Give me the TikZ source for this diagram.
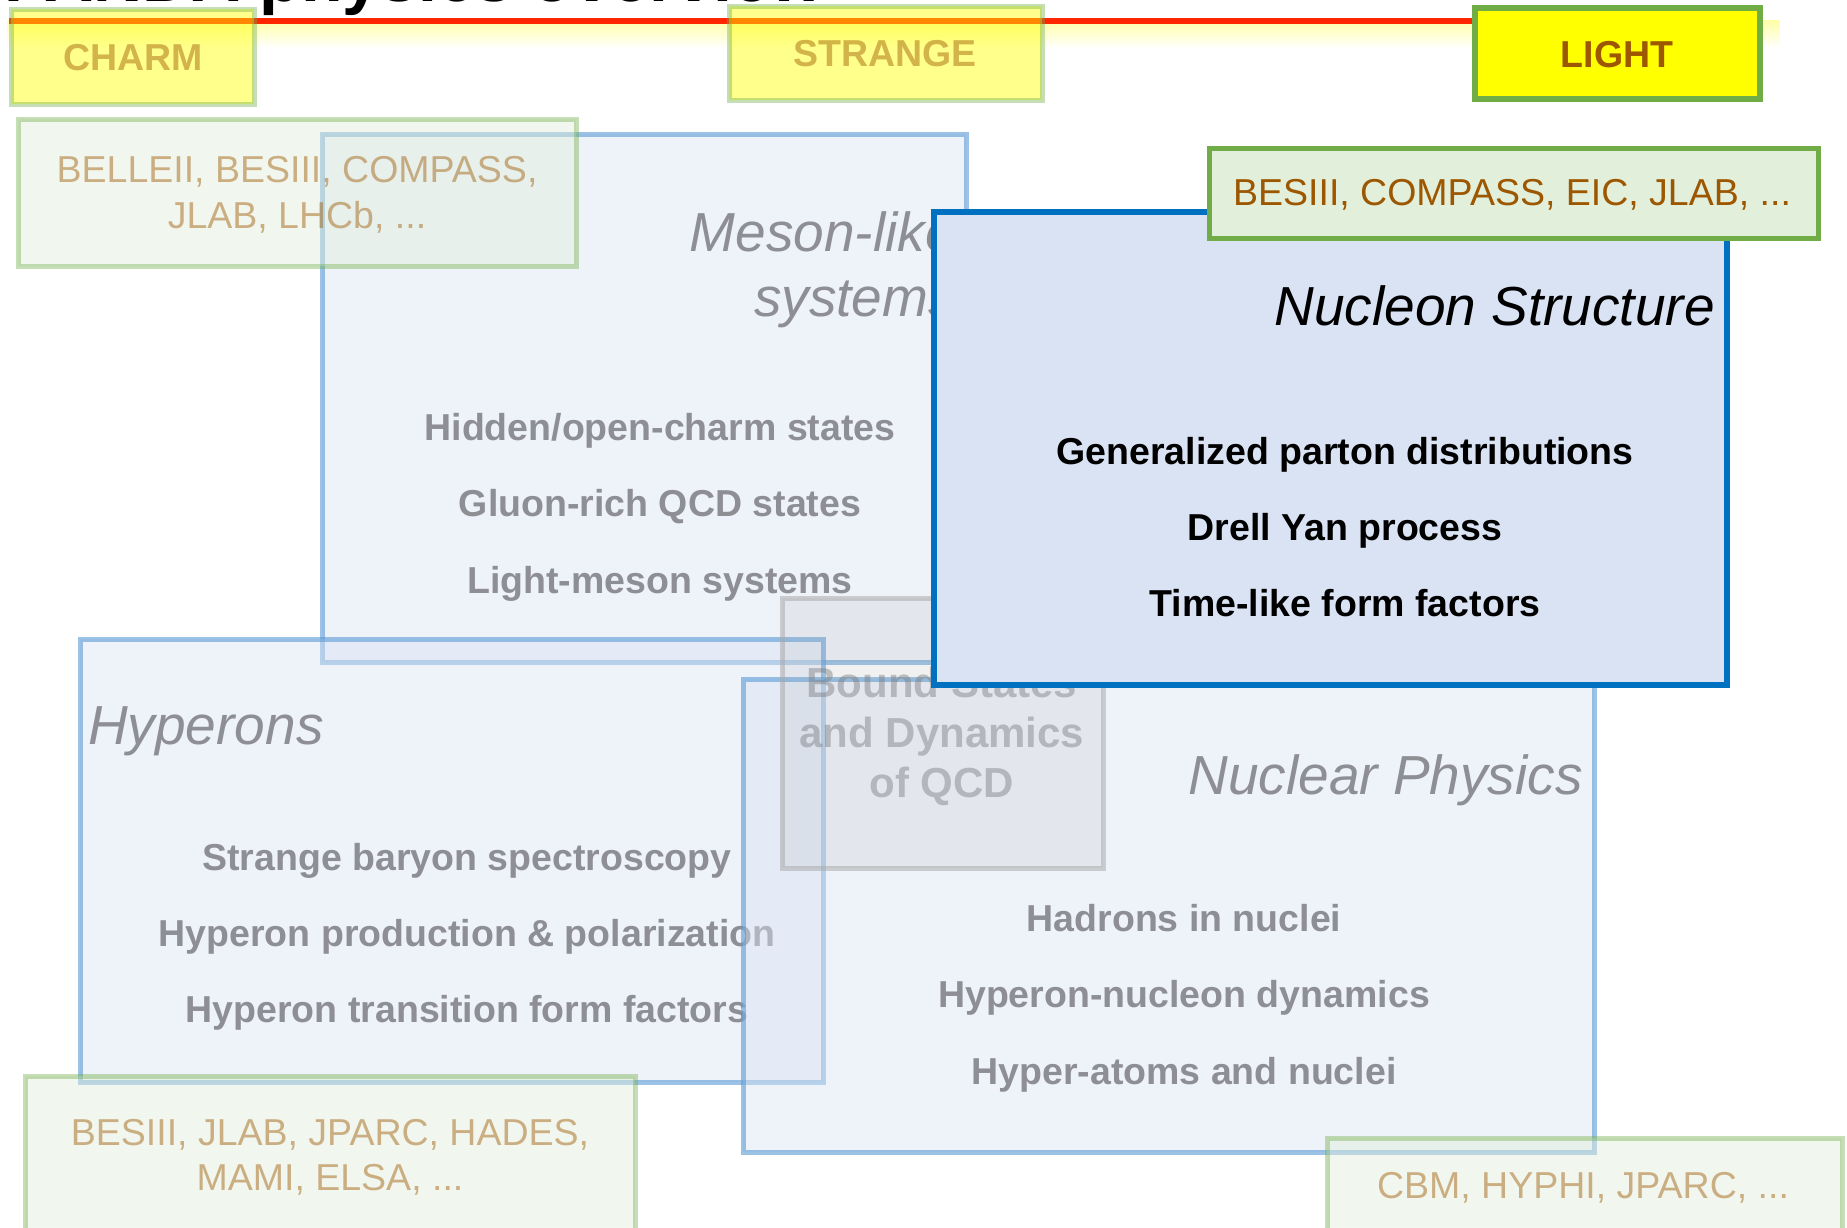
\documentclass[tikz,border=0pt]{standalone}
\usepackage{fontspec}
\setmainfont{Liberation Sans}
\usetikzlibrary{fadings}
\definecolor{bluedraw}{HTML}{5B9BD5}
\definecolor{bluefill}{HTML}{DAE3F3}
\definecolor{nucdraw}{HTML}{0070C0}
\definecolor{grndraw}{HTML}{70AD47}
\definecolor{grnfill}{HTML}{E2EFDA}
\definecolor{expbrown}{HTML}{9C5700}
\definecolor{txtgray}{HTML}{8E8F94}
\definecolor{redline}{HTML}{FF2600}
\definecolor{boundgray}{HTML}{A6A6A6}
\definecolor{boundtxt}{HTML}{7A7C82}
\definecolor{tagyellow}{HTML}{FFFF00}
\tikzfading[name=glowfade, top color=transparent!0, bottom color=transparent!100]
\tikzset{
  bluebox/.style={draw=bluedraw, draw opacity=0.6, fill=bluefill, fill opacity=0.45, line width=5pt},
  fadedexp/.style={draw=grndraw, draw opacity=0.4, fill=grnfill, fill opacity=0.45, line width=5pt},
  fadedtag/.style={draw=grndraw, draw opacity=0.4, fill=tagyellow, fill opacity=0.45, line width=5pt},
  itemtxt/.style={font=\fontsize{37.5pt}{45pt}\selectfont\bfseries, text=txtgray, inner sep=0pt, anchor=base},
  nucitem/.style={itemtxt, text=black},
  ttl/.style={font=\fontsize{55pt}{66pt}\selectfont\itshape, text=txtgray, inner sep=0pt},
  exptxt/.style={font=\fontsize{37.5pt}{45pt}\selectfont, text=expbrown, inner sep=0pt, anchor=base},
  fadedtxt/.style={exptxt, text opacity=0.45},
  tagtxt/.style={font=\fontsize{37.5pt}{45pt}\selectfont\bfseries, text=expbrown, inner sep=0pt, anchor=base},
  fadedtagtxt/.style={tagtxt, text opacity=0.45},
  boundtext/.style={font=\fontsize{42pt}{50pt}\selectfont\bfseries, text=boundtxt, text opacity=0.45, inner sep=0pt, anchor=base},
}
\begin{document}
\begin{tikzpicture}[x=1pt,y=-1pt]
\useasboundingbox (0,0) rectangle (1847,1227);
\clip (0,0) rectangle (1847,1227);
\fill[white] (0,0) rectangle (1847,1227);

% title (cut off at top)
\node[anchor=base west, inner sep=0pt, font=\fontsize{68pt}{80pt}\selectfont\bfseries] (title) at (4,1) {PANDA physics overview};

% glow and red bar
\fill[tagyellow, opacity=0.35, path fading=glowfade] (9,20) rectangle (1785,48);
\coordinate (barL) at (9,21);
\coordinate (barR) at (1472,21);
\draw[redline, line width=6pt] (barL) -- (barR);

% Meson-like systems
\path[bluebox] (322,134) rectangle (966,662);
\node[ttl, anchor=base east] (mesonA) at (956,251) {Meson-like};
\node[ttl, anchor=base east] (mesonB) at (956,316) {systems};
\node[itemtxt] (m1) at (660,440) {Hidden/open-charm states};
\node[itemtxt] (m2) at (660,516) {Gluon-rich QCD states};
\node[itemtxt] (m3) at (660,593) {Light-meson systems};

% Hyperons
\path[bluebox] (80,639) rectangle (823,1082);
\node[ttl, anchor=base west] (hyp) at (88,744) {Hyperons};
\node[itemtxt] (h1) at (467,870) {Strange baryon spectroscopy};
\node[itemtxt] (h2) at (467,946) {Hyperon production \& polarization};
\node[itemtxt] (h3) at (467,1022) {Hyperon transition form factors};

% Nuclear physics
\path[bluebox] (743,679) rectangle (1594,1152);
\node[ttl, anchor=base east] (nuc) at (1583,794) {Nuclear Physics};
\node[itemtxt] (n1) at (1184,931) {Hadrons in nuclei};
\node[itemtxt] (n2) at (1184,1007) {Hyperon-nucleon dynamics};
\node[itemtxt] (n3) at (1184,1084) {Hyper-atoms and nuclei};

% Bound states
\path[draw=boundgray, draw opacity=0.5, fill=boundgray, fill opacity=0.15, line width=5pt] (782,598) rectangle (1103,868);
\node[boundtext] (b1) at (942,697) {Bound States};
\node[boundtext] (b2) at (942,747) {and Dynamics};
\node[boundtext] (b3) at (942,797) {of QCD};

% faded experiment boxes
\path[fadedexp] (18,119) rectangle (576,266);
\node[fadedtxt] (e1a) at (297,182) {BELLEII, BESIII, COMPASS,};
\node[fadedtxt] (e1b) at (297,228) {JLAB, LHCb, ...};
\path[fadedexp] (25,1076) rectangle (635,1260);
\node[fadedtxt] (e2a) at (330,1145) {BESIII, JLAB, JPARC, HADES,};
\node[fadedtxt] (e2b) at (330,1190) {MAMI, ELSA, ...};
\path[fadedexp] (1327,1138) rectangle (1842,1260);
\node[fadedtxt] (e3) at (1583,1198) {CBM, HYPHI, JPARC, ...};

% Nucleon structure (highlighted)
\path[draw=nucdraw, fill=bluefill, line width=6pt] (934,212) rectangle (1727,685);
\node[ttl, text=black, anchor=base east] (nst) at (1715,325) {Nucleon Structure};
\node[nucitem] (s1) at (1345,464) {Generalized parton distributions};
\node[nucitem] (s2) at (1345,540) {Drell Yan process};
\node[nucitem] (s3) at (1345,616) {Time-like form factors};
\path[draw=grndraw, fill=grnfill, line width=5pt] (1209,148) rectangle (1818,238);
\node[exptxt] (e4) at (1512,205) {BESIII, COMPASS, EIC, JLAB, ...};

% flavour tags
\path[fadedtag] (11,9) rectangle (254,104);
\node[fadedtagtxt] (charm) at (133,70) {CHARM};
\path[fadedtag] (729,6) rectangle (1042,100);
\node[fadedtagtxt] (strange) at (885,66) {STRANGE};
\path[draw=grndraw, fill=tagyellow, line width=6pt] (1475,8) rectangle (1760,99);
\node[tagtxt] (light) at (1617,67) {LIGHT};
\end{tikzpicture}
\end{document}
